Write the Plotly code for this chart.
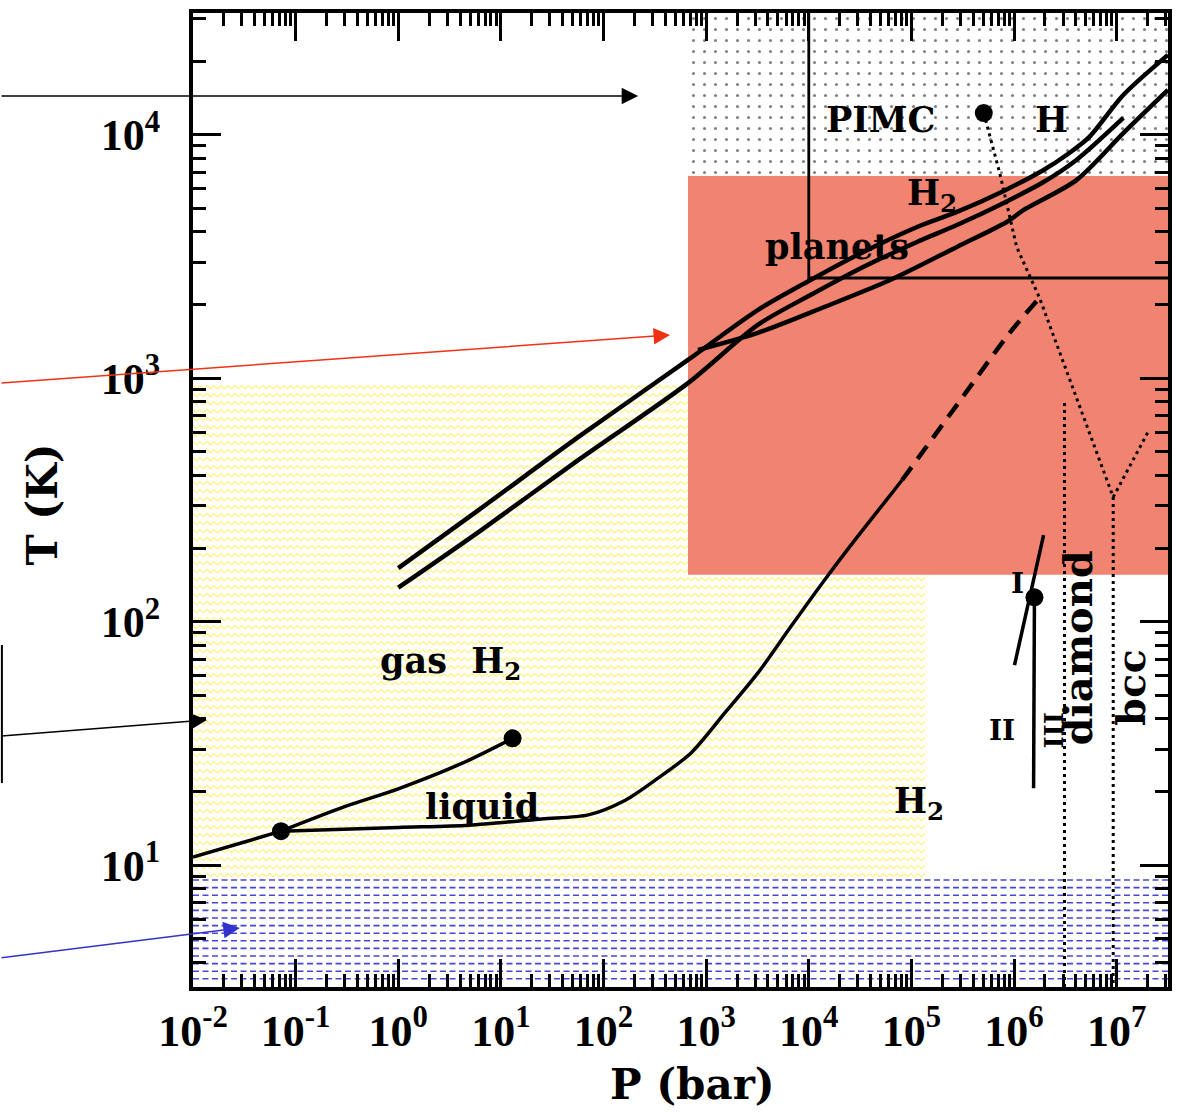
import numpy as np
import plotly.graph_objects as go

# ---- axis extent (log10 of P in bar, log10 of T in K) ----
LOGP_RANGE = [-2.0, 7.5]
LOGT_RANGE = [0.5, 4.5]
P_MIN, P_MAX = 10 ** LOGP_RANGE[0], 10 ** LOGP_RANGE[1]
T_MIN, T_MAX = 10 ** LOGT_RANGE[0], 10 ** LOGT_RANGE[1]

# ---- tick labels ----
x_tickvals = [1e-2, 1e-1, 1e0, 1e1, 1e2, 1e3, 1e4, 1e5, 1e6, 1e7]
x_ticktext = ["10<sup>-2</sup>", "10<sup>-1</sup>", "10<sup>0</sup>", "10<sup>1</sup>",
              "10<sup>2</sup>", "10<sup>3</sup>", "10<sup>4</sup>", "10<sup>5</sup>",
              "10<sup>6</sup>", "10<sup>7</sup>"]
y_tickvals = [1e1, 1e2, 1e3, 1e4]
y_ticktext = ["10<sup>1</sup>", "10<sup>2</sup>", "10<sup>3</sup>", "10<sup>4</sup>"]

# ---- shaded regions: [P_low, P_high], [T_low, T_high] ----
pimc_region_P = [665, P_MAX]
pimc_region_T = [6780, T_MAX]
planet_region_P = [665, P_MAX]
planet_region_T = [156, 6780]
lab_region_P = [P_MIN, 1.36e5]
lab_region_T = [8.7, 955]
cold_region_P = [P_MIN, P_MAX]
cold_region_T = [T_MIN, 8.7]

# ---- coexistence lines of molecular hydrogen ----
sub_P = [0.01, 0.072]
sub_T = [10.8, 13.8]

vap_P = [0.072, 0.3, 1.0, 4.0, 13.0]
vap_T = [13.8, 17.4, 20.6, 26.0, 33.2]

melt_P = [0.072, 1.0, 4.9, 24.9, 71, 163, 340, 712, 1520, 3180, 6640, 14200, 29700, 54300, 81200]
melt_T = [13.8, 14.3, 14.6, 15.5, 16.1, 18.5, 22.8, 28.9, 42.2, 61.5, 95.1, 148, 223, 308, 382]

melt_ext_P = [81200, 277000, 906000, 1.77e6]
melt_ext_T = [382, 776, 1535, 2140]

# plasma phase transition line and solid boundaries (dotted)
ppt_P = [5.07e5, 7.24e5, 1.06e6, 1.77e6, 9.25e6]
ppt_T = [12270, 6970, 3460, 2140, 325]
bcc_branch_P = [9.25e6, 2.07e7]
bcc_branch_T = [325, 613]
bcc_P = [9.25e6, 9.25e6]
bcc_T = [325, T_MIN]
diamond_P = [3.1e6, 3.1e6]
diamond_T = [791, T_MIN]

# solid phases I / II / III
i_ii_P = [1.01e6, 1.94e6]
i_ii_T = [66.4, 227]
ii_iii_P = [1.58e6, 1.55e6]
ii_iii_T = [126, 20.7]

# ---- planetary isentropes ----
isen_a_P = [1, 6.1, 57, 665, 3180, 10400, 29700, 113500, 277500, 793000, 1.94e6, 3.46e6, 5.42e6, 1.16e7, 3.16e7]
isen_a_T = [166, 288, 574, 1189, 1905, 2531, 3206, 4178, 4819, 5879, 7166, 8414, 9795, 14560, 21270]
isen_b_P = [1, 6.1, 57, 665, 3180, 10400, 29700, 113500, 277500, 793000, 1.94e6, 4.05e6, 1.16e7]
isen_b_T = [138, 234, 462, 955, 1656, 2198, 2786, 3629, 4257, 5250, 6394, 7876, 11720]
isen_c_P = [832, 3180, 14190, 62100, 277500, 848000, 1.24e6, 4.05e6, 1.16e7, 3.16e7]
isen_c_T = [1306, 1535, 1962, 2531, 3462, 4382, 4910, 6512, 10160, 15280]

# boundary of the PIMC-accessible domain
pimc_edge_P = [1e4, 1e4, P_MAX]
pimc_edge_T = [T_MAX, 2580, 2580]

# special points: triple, critical, PPT critical, I-II-III
point_P = [0.072, 13.0, 5.07e5, 1.58e6]
point_T = [13.8, 33.2, 12270, 126]

# ---- region labels: text, P, T, angle, font size ----
labels = [
    ("PIMC", 4.97e4, 11500, 0, 35),
    ("H", 2.32e6, 11500, 0, 35),
    ("H<sub>2</sub>", 1.6e5, 5660, 0, 35),
    ("planets", 1.9e4, 3490, 0, 35),
    ("gas  H<sub>2</sub>", 3.26, 67.8, 0, 35),
    ("liquid", 6.5, 17.5, 0, 35),
    ("H<sub>2</sub>", 1.19e5, 18.0, 0, 35),
    ("I", 1.09e6, 143, 0, 28),
    ("II", 7.6e5, 35.9, 0, 28),
    ("III", 2.48e6, 35.9, -90, 26),
    ("diamond", 4.14e6, 78, -90, 40),
    ("bcc", 1.38e7, 53.5, -90, 40),
]

# ---- figure geometry ----
W, H = 1180, 1112
ML, MR, MT, MB = 193, 8, 13, 125
PW, PH = W - ML - MR, H - MT - MB


def paper_x(p):
    return (np.log10(p) - LOGP_RANGE[0]) / (LOGP_RANGE[1] - LOGP_RANGE[0])


def paper_y(t):
    return (np.log10(t) - LOGT_RANGE[0]) / (LOGT_RANGE[1] - LOGT_RANGE[0])


def box(px, ty):
    return [px[0], px[1], px[1], px[0], px[0]], [ty[0], ty[0], ty[1], ty[1], ty[0]]


def zigzag_path(px, ty, row=8.0, period=7.0, amp=1.6):
    """Wavy texture filling a P-T box, built in plot pixels then mapped to paper."""
    x0, x1 = paper_x(px[0]) * PW, paper_x(px[1]) * PW
    y0, y1 = paper_y(ty[0]) * PH, paper_y(ty[1]) * PH
    parts = []
    for yc in np.arange(y1 - row / 2, y0 + amp, -row):
        xs = np.arange(x0, x1 + 0.01, period / 2)
        ys = yc + amp * np.where(np.arange(len(xs)) % 2 == 0, 1, -1)
        seg = " L".join(f"{x / PW:.5f},{y / PH:.5f}" for x, y in zip(xs, ys))
        parts.append("M" + seg)
    return " ".join(parts)


fig = go.Figure()

# red planetary-interior band
bx, by = box(planet_region_P, planet_region_T)
fig.add_trace(go.Scatter(x=bx, y=by, mode="lines", fill="toself",
                         fillcolor="rgb(240,132,112)", line=dict(width=0),
                         hoverinfo="skip", showlegend=False))
# stippled PIMC band
bx, by = box(pimc_region_P, pimc_region_T)
fig.add_trace(go.Scatter(x=bx, y=by, mode="lines", fill="toself", fillcolor="white",
                         fillpattern=dict(shape=".", fgcolor="black", bgcolor="white",
                                          size=11, solidity=0.06),
                         line=dict(width=0), hoverinfo="skip", showlegend=False))


def add_line(P, T, smooth=False, **kw):
    if smooth:
        kw = dict(kw, shape="spline", smoothing=0.8)
    fig.add_trace(go.Scatter(x=P, y=T, mode="lines", line=kw, hoverinfo="skip",
                             showlegend=False))


add_line(sub_P, sub_T, color="black", width=3.5)
add_line(vap_P, vap_T, smooth=True, color="black", width=3.5)
add_line(melt_P, melt_T, smooth=True, color="black", width=3.5)
add_line(melt_ext_P, melt_ext_T, smooth=True, color="black", width=4.5, dash="16px,10px")
for P, T in [(ppt_P, ppt_T), (bcc_branch_P, bcc_branch_T), (bcc_P, bcc_T),
             (diamond_P, diamond_T)]:
    add_line(P, T, color="black", width=3, dash="3px,4px")
add_line(i_ii_P, i_ii_T, color="black", width=3.5)
add_line(ii_iii_P, ii_iii_T, color="black", width=3.5)
add_line(pimc_edge_P, pimc_edge_T, color="black", width=2.8)
for P, T in [(isen_a_P, isen_a_T), (isen_b_P, isen_b_T), (isen_c_P, isen_c_T)]:
    add_line(P, T, smooth=True, color="black", width=4.5)

fig.add_trace(go.Scatter(x=point_P, y=point_T, mode="markers",
                         marker=dict(size=18, color="black"),
                         hoverinfo="skip", showlegend=False))

shapes = []
# yellow wavy texture over the laboratory range
shapes.append(dict(type="path", path=zigzag_path(lab_region_P, lab_region_T),
                   xref="paper", yref="paper", layer="below",
                   line=dict(color="rgb(255,242,125)", width=1.1)))
# blue dashed texture over the low-temperature band
y_top = paper_y(cold_region_T[1]) * PH
for yy in np.arange(y_top, 2, -7.6):
    shapes.append(dict(type="line", xref="paper", yref="paper", layer="below",
                       x0=paper_x(cold_region_P[0]), x1=paper_x(cold_region_P[1]),
                       y0=yy / PH, y1=yy / PH,
                       line=dict(color="rgb(70,70,215)", width=1.6, dash="6px,3.5px")))
# bracket at the left margin
shapes.append(dict(type="line", xref="paper", yref="paper", x0=-0.196, x1=-0.196,
                   y0=0.2094, y1=0.3511, line=dict(color="black", width=2)))

annotations = []
for text, P, T, ang, fs in labels:
    annotations.append(dict(x=np.log10(P), y=np.log10(T), xref="x", yref="y",
                            text=text, showarrow=False, textangle=ang,
                            xanchor="center", yanchor="middle",
                            font=dict(family="DejaVu Serif", size=fs, color="black",
                                      weight="bold")))

# arrows entering from the left margin
arrows = [
    (0.4566, 0.9148, -640, 0, "black"),
    (0.4893, 0.6694, -672, 48, "rgb(240,50,20)"),
    (0.0143, 0.2741, -207, 16, "black"),
    (0.0480, 0.0606, -240, 30, "rgb(50,50,205)"),
]
for hx, hy, ax, ay, col in arrows:
    annotations.append(dict(x=hx, y=hy, xref="paper", yref="paper", ax=ax, ay=ay,
                            axref="pixel", ayref="pixel", text="", showarrow=True,
                            arrowhead=2, arrowsize=2.2, arrowwidth=1.5, arrowcolor=col))

# axis titles
title_font = dict(family="DejaVu Serif", size=42, color="black", weight="bold")
annotations.append(dict(x=0.5128, y=-0.1006, xref="paper", yref="paper",
                        xanchor="center", yanchor="middle",
                        text="P (bar)", showarrow=False, font=title_font))
annotations.append(dict(x=-0.1542, y=0.4949, xref="paper", yref="paper",
                        xanchor="center", yanchor="middle",
                        text="T (K)", showarrow=False, textangle=-90, font=title_font))

tick_font = dict(family="Liberation Serif", size=44, color="black", weight="bold")
axis_common = dict(type="log", showgrid=False, zeroline=False, showline=True,
                   linecolor="black", linewidth=4, mirror="allticks",
                   ticks="inside", ticklen=28, tickwidth=3, tickcolor="black",
                   tickmode="array", tickfont=tick_font,
                   minor=dict(ticks="inside", ticklen=13, tickwidth=2.5,
                              tickcolor="black", dtick="D1", showgrid=False))

fig.update_layout(
    width=W, height=H,
    margin=dict(l=ML, r=MR, t=MT, b=MB),
    paper_bgcolor="white", plot_bgcolor="white",
    xaxis=dict(range=LOGP_RANGE, tickvals=x_tickvals, ticktext=x_ticktext,
               ticklabelstandoff=2, **axis_common),
    yaxis=dict(range=LOGT_RANGE, tickvals=y_tickvals, ticktext=y_ticktext,
               ticklabelstandoff=20, **axis_common),
    shapes=shapes, annotations=annotations, showlegend=False,
)

fig.write_html("out.html")
